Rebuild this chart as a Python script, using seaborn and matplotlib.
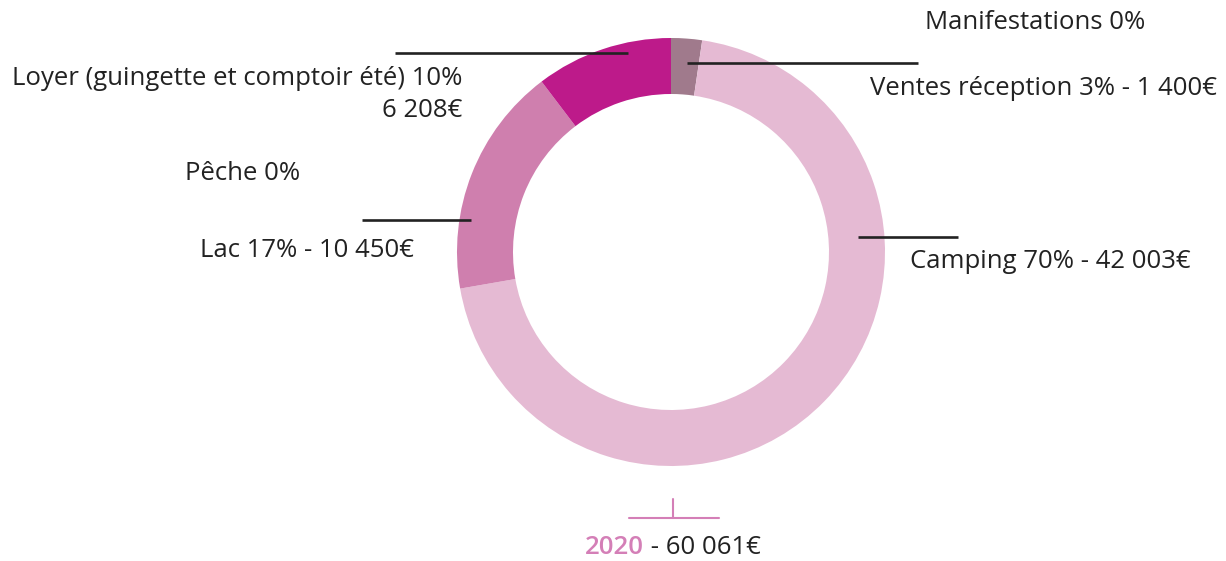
import matplotlib
matplotlib.use("Agg")
import matplotlib.pyplot as plt
import seaborn as sns

# data
categories = ["Ventes réception", "Camping", "Manifestations", "Pêche", "Lac",
              "Loyer (guingette et comptoir été)"]
amounts = [1400, 42003, 0, 0, 10450, 6208]
percents = [3, 70, 0, 0, 17, 10]
year = "2020"
total = sum(amounts)

colors = ["#a07a8c", "#e5bad3", "#d9a0c4", "#c86fa6", "#cf7fae", "#bd1a8a"]

sns.set_theme(style="white")
plt.rcParams["font.family"] = ["Open Sans", "DejaVu Sans"]

W, H = 1226, 561
fig = plt.figure(figsize=(W / 100, H / 100), dpi=100)
ax = fig.add_axes([0, 0, 1, 1])


def py(y):
    return H - y


ax.pie(amounts, colors=colors, startangle=90, counterclock=False,
       center=(671, py(252)), radius=214, frame=True,
       wedgeprops=dict(width=56, linewidth=0))
ax.set_xlim(0, W)
ax.set_ylim(0, H)
ax.set_aspect("equal")
ax.axis("off")


def fmt(v):
    return f"{v:,}".replace(",", " ") + "€"


def lab(i, money=True):
    s = f"{categories[i]} {percents[i]}%"
    if money:
        s += f" - {fmt(amounts[i])}"
    return s


txt = dict(fontsize=18.5, color="#222222")
line = dict(color="#222222", lw=1.9, solid_capstyle="butt")

# Loyer
ax.plot([395, 628], [py(53), py(53)], **line)
ax.text(462, py(78), lab(5, False), ha="right", va="center", **txt)
ax.text(462, py(110), fmt(amounts[5]), ha="right", va="center", **txt)

# Manifestations
ax.text(925, py(22), lab(2, False), ha="left", va="center", **txt)

# Ventes
ax.plot([687, 918], [py(63), py(63)], **line)
ax.text(870, py(88), lab(0), ha="left", va="center", **txt)

# Pêche
ax.text(185, py(173), lab(3, False), ha="left", va="center", **txt)

# Lac
ax.plot([362, 471], [py(220), py(220)], **line)
ax.text(200, py(250), lab(4), ha="left", va="center", **txt)

# Camping
ax.plot([858, 958], [py(237), py(237)], **line)
ax.text(910, py(261), lab(1), ha="left", va="center", **txt)

# total bracket
pink = "#d47fb7"
ax.plot([673, 673], [py(499), py(518)], color=pink, lw=1.5)
ax.plot([629, 719], [py(518), py(518)], color=pink, lw=1.5)
t1 = ax.text(585, py(547), year, ha="left", va="center", fontsize=18.5,
             color=pink, fontweight="semibold")
ax.annotate(f" - {fmt(total)}", xycoords=t1, xy=(1, 0.5), ha="left", va="center", **txt)

fig.savefig("out.png", dpi=100)
